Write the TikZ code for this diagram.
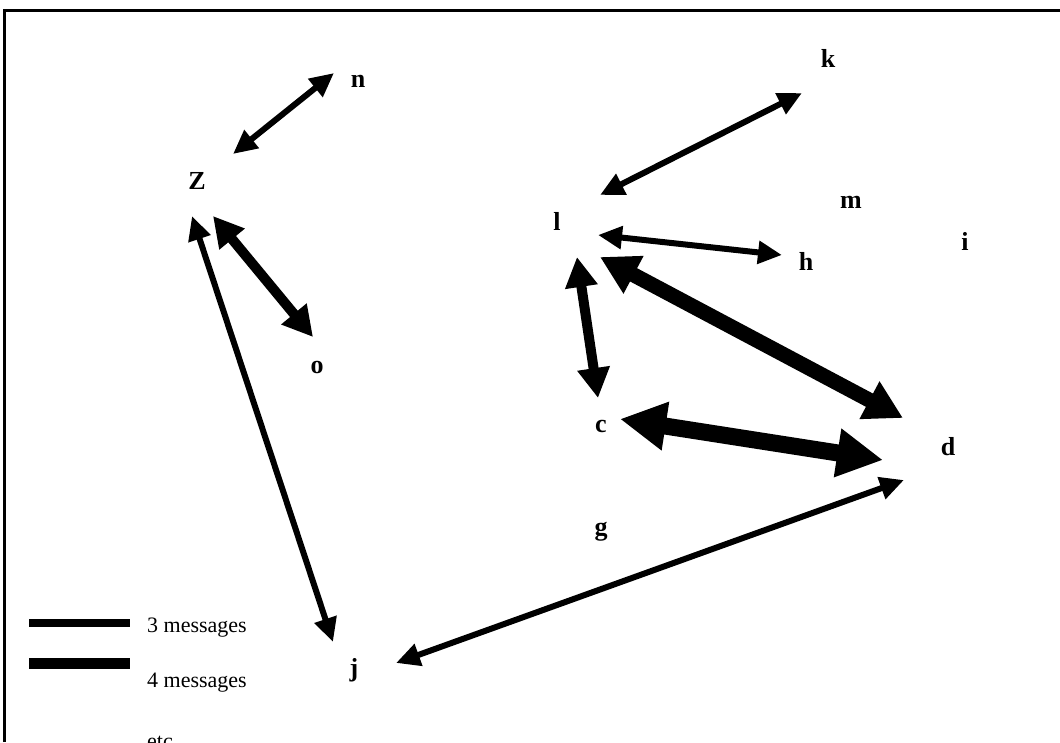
\documentclass[tikz,border=0pt]{standalone}
\usepackage{fontspec}
\setmainfont{Liberation Serif}
\usetikzlibrary{arrows.meta,calc}
\tikzset{
  lbl/.style={font=\bfseries\fontsize{26}{26}\selectfont, inner sep=0pt, anchor=base},
  legtxt/.style={font=\fontsize{22}{22}\selectfont, inner sep=0pt, anchor=base west},
  frame/.style={line width=3pt},
  msgthree/.style={line width=6pt, {Triangle[length=24pt,width=22pt]}-{Triangle[length=24pt,width=22pt]}},
  msgfour/.style={line width=10pt, {Triangle[length=30pt,width=31pt]}-{Triangle[length=30pt,width=31pt]}},
  msgsix/.style={line width=15pt, {Triangle[length=38pt,width=40pt]}-{Triangle[length=38pt,width=40pt]}},
  msgseven/.style={line width=17pt, {Triangle[length=46pt,width=46pt]}-{Triangle[length=46pt,width=46pt]}},
  legbarthree/.style={line width=8pt},
  legbarfour/.style={line width=11pt},
}
\begin{document}
\begin{tikzpicture}[x=1pt,y=-1pt]
  \useasboundingbox (0,0) rectangle (1060,742);
  % frame: top and left edges only
  \draw[frame] (4.5,742) -- (4.5,10.5) -- (1060,10.5);

  % participants
  \node[lbl] (Z) at (197,189) {Z};
  \node[lbl] (n) at (358,87) {n};
  \node[lbl] (o) at (317,373) {o};
  \node[lbl] (k) at (828,67) {k};
  \node[lbl] (l) at (557,230) {l};
  \node[lbl] (m) at (851,208) {m};
  \node[lbl] (i) at (965,250) {i};
  \node[lbl] (h) at (806,270) {h};
  \node[lbl] (c) at (601,432) {c};
  \node[lbl] (d) at (948,455) {d};
  \node[lbl] (g) at (601,535) {g};
  \node[lbl] (j) at (354,676) {j};

  % message links
  \draw[msgthree] ($(Z.base)+(36,-35)$) -- ($(n.base)+(-24,-14)$);
  \draw[msgfour]  ($(Z.base)+(16,27)$)  -- ($(o.base)+(-4,-36)$);
  \draw[msgthree] ($(Z.base)+(-5,27)$)  -- ($(j.base)+(-21,-34)$);
  \draw[msgthree] ($(l.base)+(43,-35)$) -- ($(k.base)+(-26,26)$);
  \draw[msgthree] ($(l.base)+(41,5)$)   -- ($(h.base)+(-24,-15)$);
  \draw[msgfour]  ($(l.base)+(20,27)$)  -- ($(c.base)+(-3,-34)$);
  \draw[msgsix]   ($(l.base)+(43,27)$)  -- ($(d.base)+(-45,-37)$);
  \draw[msgseven] ($(c.base)+(19,-13)$) -- ($(d.base)+(-65,5)$);
  \draw[msgthree] ($(j.base)+(42,-13)$) -- ($(d.base)+(-44,25)$);

  % legend
  \coordinate (b3a) at (29,623);
  \coordinate (b3b) at (130,623);
  \coordinate (b4a) at (29,663.5);
  \coordinate (b4b) at (130,663.5);
  \draw[legbarthree] (b3a) -- (b3b);
  \draw[legbarfour] (b4a) -- (b4b);
  \node[legtxt] (t3) at (147,632) {3 messages};
  \node[legtxt] (t4) at (147,687) {4 messages};
  \node[legtxt] (etc) at (147,748) {etc};
\end{tikzpicture}
\end{document}
